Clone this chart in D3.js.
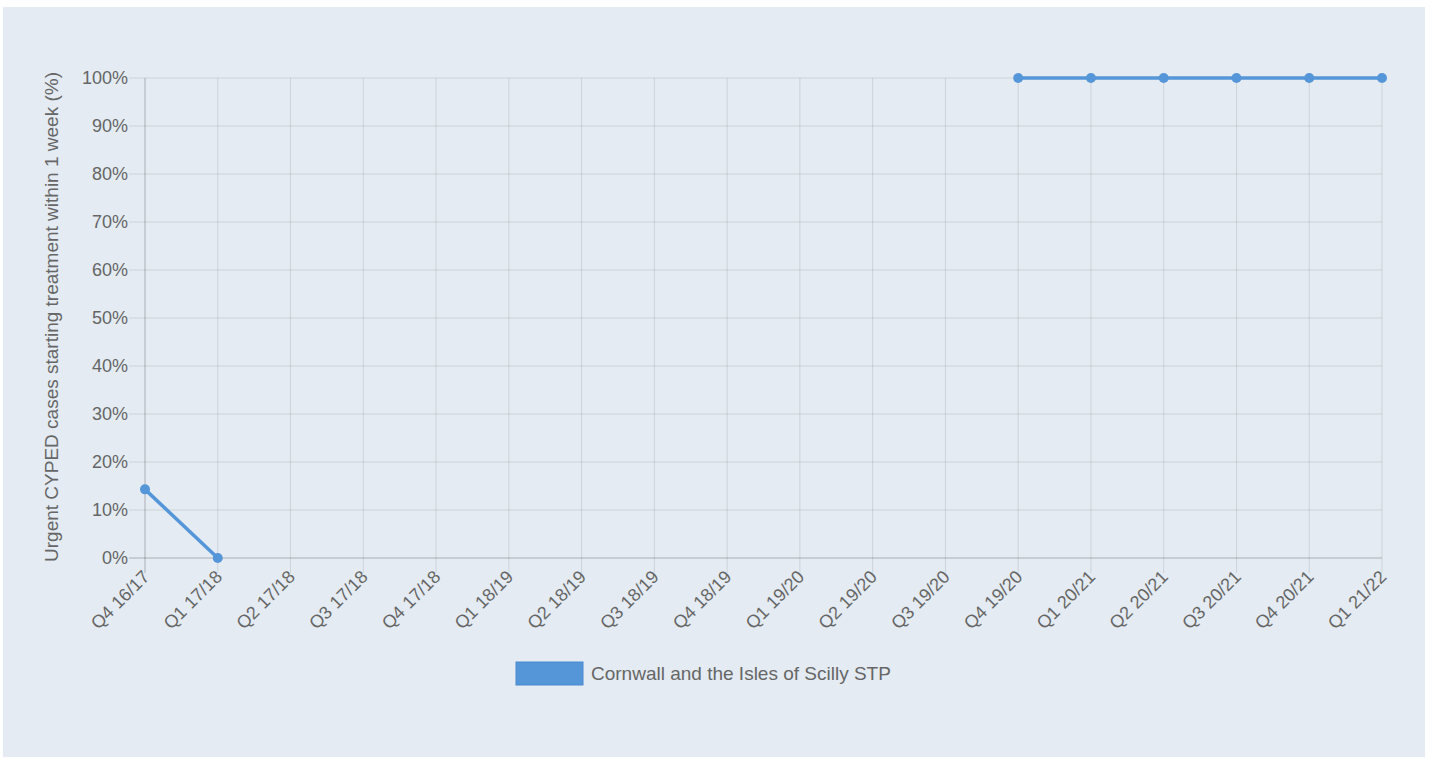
<!DOCTYPE html>
<html>
<head>
<meta charset="utf-8">
<script src="https://cdn.jsdelivr.net/npm/d3@7"></script>
<style>
  body { margin: 0; background: #fff; }
  svg { display: block; }
  text { font-family: "Liberation Sans", Arial, sans-serif; fill: #666; }
</style>
</head>
<body>
<svg></svg>
<script>
var quarters = ['Q4 16/17', 'Q1 17/18', 'Q2 17/18', 'Q3 17/18', 'Q4 17/18', 'Q1 18/19',
  'Q2 18/19', 'Q3 18/19', 'Q4 18/19', 'Q1 19/20', 'Q2 19/20', 'Q3 19/20',
  'Q4 19/20', 'Q1 20/21', 'Q2 20/21', 'Q3 20/21', 'Q4 20/21', 'Q1 21/22'];
var cornwall = [14.3, 0, null, null, null, null, null, null, null, null, null, null,
  100, 100, 100, 100, 100, 100];
var yTicks = [0, 10, 20, 30, 40, 50, 60, 70, 80, 90, 100];
var seriesName = 'Cornwall and the Isles of Scilly STP';
var yTitle = 'Urgent CYPED cases starting treatment within 1 week (%)';

var W = 1432, H = 758;
var margin = { top: 78, right: 50, bottom: 200, left: 145 };
var width = 1382 - margin.left,
  height = 558 - margin.top;
var lineColor = '#5596d8';

var svg = d3.select('svg')
  .attr('width', W)
  .attr('height', H);

// panel
svg.append('rect')
  .attr('x', 3).attr('y', 7)
  .attr('width', 1422).attr('height', 750)
  .attr('fill', '#e4ebf2');

var g = svg.append('g')
  .attr('transform', 'translate(' + margin.left + ',' + margin.top + ')');

var x = d3.scalePoint().domain(quarters).range([0, width]);
var y = d3.scaleLinear().domain([0, 100]).range([height, 0]);

// horizontal grid
g.append('g')
  .selectAll('line')
  .data(yTicks)
  .enter()
  .append('line')
  .attr('x1', -16).attr('x2', width)
  .attr('y1', function(d) { return y(d); })
  .attr('y2', function(d) { return y(d); })
  .attr('stroke', function(d) { return d === 0 ? 'rgba(0,0,0,0.25)' : 'rgba(0,0,0,0.1)'; })
  .attr('stroke-width', 1);

// vertical grid
g.append('g')
  .selectAll('line')
  .data(quarters)
  .enter()
  .append('line')
  .attr('x1', function(d) { return x(d); })
  .attr('x2', function(d) { return x(d); })
  .attr('y1', 0).attr('y2', height + 15)
  .attr('stroke', function(d, i) { return i === 0 ? 'rgba(0,0,0,0.25)' : 'rgba(0,0,0,0.1)'; })
  .attr('stroke-width', 1);

// y axis labels
var yAxis = d3.axisLeft(y)
  .tickValues(yTicks)
  .tickSize(0)
  .tickPadding(17)
  .tickFormat(function(d) { return d + '%'; });
var ya = g.append('g').call(yAxis);
ya.select('.domain').remove();
ya.selectAll('text')
  .style('font-size', '18px')
  .attr('fill', '#666');

// x axis labels
var xAxis = d3.axisBottom(x).tickSize(0).tickPadding(0);
var xa = g.append('g')
  .attr('transform', 'translate(0,' + height + ')')
  .call(xAxis);
xa.select('.domain').remove();
xa.selectAll('text')
  .style('font-size', '18px')
  .attr('fill', '#666')
  .attr('dy', 0)
  .attr('y', 0)
  .attr('text-anchor', 'end')
  .attr('transform', 'translate(5,20) rotate(-45)');

// y title
svg.append('text')
  .attr('transform', 'translate(58,317) rotate(-90)')
  .attr('text-anchor', 'middle')
  .style('font-size', '19px')
  .text(yTitle);

// line
var line = d3.line()
  .defined(function(d) { return d != null; })
  .x(function(d, i) { return x(quarters[i]); })
  .y(function(d) { return y(d); });

g.append('path')
  .datum(cornwall)
  .attr('fill', 'none')
  .attr('stroke', lineColor)
  .attr('stroke-width', 3.5)
  .attr('d', line);

g.selectAll('.pt')
  .data(cornwall.map(function(v, i) { return { q: quarters[i], v: v }; })
    .filter(function(d) { return d.v != null; }))
  .enter()
  .append('circle')
  .attr('class', 'pt')
  .attr('cx', function(d) { return x(d.q); })
  .attr('cy', function(d) { return y(d.v); })
  .attr('r', 5)
  .attr('fill', lineColor);

// legend
var leg = svg.append('g').attr('transform', 'translate(516,662)');
leg.append('rect')
  .attr('width', 67).attr('height', 23)
  .attr('fill', lineColor)
  .attr('stroke', '#4a8ad0')
  .attr('stroke-width', 1);
leg.append('text')
  .attr('x', 75).attr('y', 18)
  .style('font-size', '19px')
  .text(seriesName);
</script>
</body>
</html>
